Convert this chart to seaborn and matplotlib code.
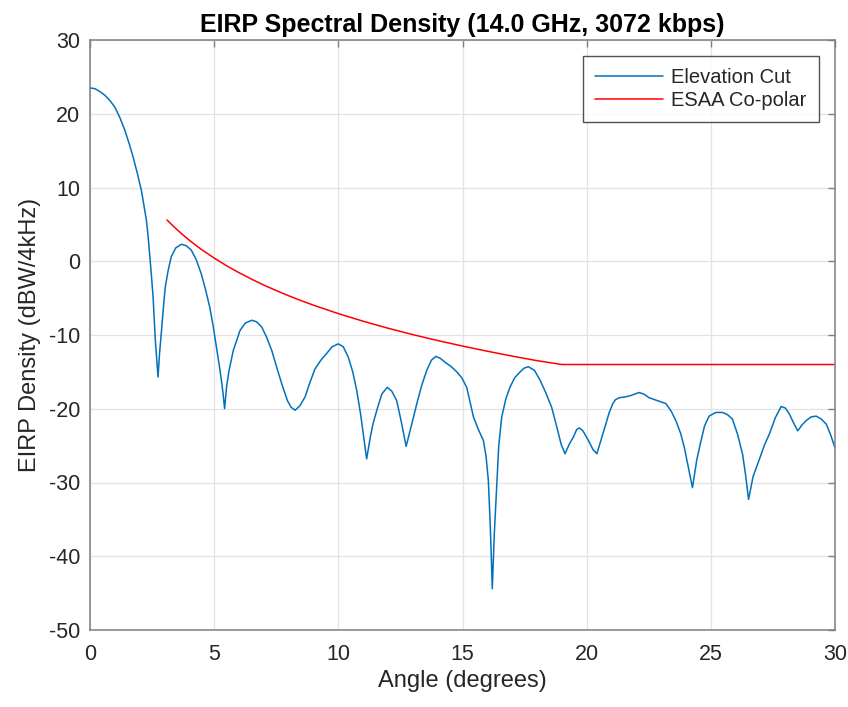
import matplotlib
matplotlib.use("Agg")
import matplotlib.pyplot as plt
import pandas as pd
import seaborn as sns

# Elevation cut (degrees, dBW/4kHz)
angle = [0.0, 0.2, 0.4, 0.6, 0.8, 1.0, 1.2, 1.4, 1.6, 1.73, 1.9, 2.07, 2.17,
         2.27, 2.34, 2.40, 2.47, 2.54, 2.63, 2.70, 2.74,
         2.80, 2.87, 2.95, 3.03, 3.15, 3.27, 3.45, 3.68, 3.88, 4.08, 4.28, 4.48,
         4.65, 4.82, 4.96, 5.09, 5.20, 5.29, 5.36, 5.42,
         5.50, 5.60, 5.77, 6.04, 6.25, 6.51, 6.70, 6.91, 7.10, 7.32, 7.52, 7.72,
         7.95, 8.10, 8.26, 8.45, 8.66, 8.86, 9.06, 9.30, 9.53, 9.75, 10.0, 10.20,
         10.40, 10.58, 10.74, 10.90, 11.03, 11.14, 11.28, 11.40, 11.55, 11.75,
         11.97, 12.15, 12.35, 12.55, 12.73, 12.85, 13.0, 13.16, 13.36, 13.56,
         13.75, 13.93, 14.12, 14.30, 14.55, 14.77, 14.97, 15.17, 15.30, 15.44,
         15.65, 15.84, 15.95, 16.04, 16.12, 16.20, 16.28, 16.38, 16.46, 16.58,
         16.75, 16.91, 17.10, 17.32, 17.48, 17.65, 17.90, 18.12, 18.35, 18.59,
         18.80, 18.97, 19.13, 19.30, 19.47, 19.60, 19.71, 19.85, 20.07, 20.25,
         20.41, 20.60, 20.77, 20.90, 21.04, 21.15, 21.31, 21.55, 21.78, 21.95,
         22.11, 22.30, 22.51, 22.85, 23.19, 23.40, 23.59, 23.78, 23.93, 24.10,
         24.26, 24.43, 24.60, 24.75, 24.93, 25.20, 25.47, 25.67, 25.87, 26.08,
         26.28, 26.40, 26.52, 26.70, 26.95, 27.15, 27.36, 27.60, 27.83, 28.00,
         28.16, 28.33, 28.50, 28.67, 28.84, 29.04, 29.24, 29.45, 29.65, 29.82,
         30.0]
eirp = [23.5, 23.4, 23.0, 22.5, 21.8, 20.9, 19.5, 17.8, 15.7, 14.2, 12.0, 9.6, 7.6,
        5.6, 3.4, 1.0, -1.8, -4.8, -10.7, -14.0, -15.7,
        -12.5, -9.8, -6.5, -3.5, -1.2, 0.6, 1.8, 2.3, 2.1, 1.5, 0.2, -1.7,
        -3.8, -6.2, -8.8, -11.6, -14.0, -16.1, -18.0, -20.0,
        -17.0, -14.8, -12.1, -9.4, -8.4, -8.0, -8.2, -8.9, -10.2, -12.1, -14.4, -16.6,
        -18.9, -19.8, -20.2, -19.6, -18.4, -16.4, -14.6, -13.4, -12.5, -11.6, -11.2, -11.6,
        -13.0, -15.0, -17.5, -20.8, -24.0, -26.8, -24.0, -22.0, -20.2, -18.0,
        -17.1, -17.6, -18.9, -22.0, -25.1, -23.5, -21.5, -19.3, -16.8, -14.8,
        -13.4, -12.9, -13.2, -13.7, -14.3, -15.0, -15.8, -17.1, -19.0, -21.1,
        -22.9, -24.3, -26.5, -29.7, -36.0, -44.4, -37.0, -30.2, -25.0, -21.1,
        -18.6, -17.1, -15.8, -15.0, -14.5, -14.3, -14.8, -16.1, -17.8, -19.8,
        -22.5, -24.8, -26.1, -24.8, -23.8, -22.8, -22.6, -23.0, -24.3, -25.5,
        -26.1, -24.0, -22.1, -20.6, -19.4, -18.8, -18.5, -18.4, -18.2, -18.0,
        -17.8, -18.0, -18.5, -18.9, -19.3, -20.3, -21.6, -23.3, -25.2, -28.0,
        -30.7, -27.0, -24.4, -22.3, -21.0, -20.5, -20.5, -20.8, -21.4, -23.5,
        -26.2, -29.0, -32.3, -29.2, -26.9, -25.0, -23.4, -21.2, -19.7, -19.9,
        -20.7, -21.9, -23.0, -22.2, -21.6, -21.1, -21.0, -21.4, -22.1, -23.5,
        -25.3]

# ESAA co-polar mask
mask_angle = [3.1, 3.3, 3.5, 3.75, 4.0, 4.25, 4.5, 5.0, 5.5, 6.0, 6.5, 7.0, 7.5,
              8.0, 8.5, 9.0, 10.0, 11.0, 12.0, 13.0, 14.0, 15.0, 16.0, 17.0,
              18.0, 19.0, 30.0]
mask_eirp = [5.6, 4.94, 4.3, 3.55, 2.85, 2.19, 1.57, 0.43, -0.61, -1.55, -2.42,
             -3.23, -3.98, -4.68, -5.34, -5.96, -7.1, -8.13, -9.08, -9.95,
             -10.75, -11.5, -12.2, -12.86, -13.48, -14.0, -14.0]

sns.set_theme(style="whitegrid")
plt.rcParams['font.family'] = ['Liberation Sans', 'DejaVu Sans']
plt.rcParams['axes.unicode_minus'] = False

fig = plt.figure(figsize=(8.48, 7.07), dpi=100)
ax = fig.add_axes([90 / 848, 1 - 630 / 707, 745 / 848, 590 / 707])

cut = pd.DataFrame({'Angle': angle, 'EIRP': eirp, 'series': 'Elevation Cut'})
esaa = pd.DataFrame({'Angle': mask_angle, 'EIRP': mask_eirp, 'series': 'ESAA Co-polar'})
df = pd.concat([cut, esaa], ignore_index=True)

sns.lineplot(data=df, x='Angle', y='EIRP', hue='series',
             palette=['#0072BD', '#FF0000'], sort=False, estimator=None,
             linewidth=1.1, ax=ax)

ax.set_xlim(0, 30)
ax.set_ylim(-50, 30)
ax.set_xticks(range(0, 31, 5))
ax.set_yticks(range(-50, 31, 10))
ax.grid(True, color='#e3e3e3', linewidth=0.9)
for s in ax.spines.values():
    s.set_color('#7f7f7f')
    s.set_linewidth(1.1)
ax.tick_params(axis='both', direction='in', length=5, width=1.0, color='#7f7f7f',
               labelsize=15.5, labelcolor='#262626', top=True, right=True)
ax.tick_params(axis='x', pad=10)
ax.tick_params(axis='y', pad=7)

ax.set_xlabel('Angle (degrees)', fontsize=17, color='#262626', labelpad=4)
ax.set_ylabel('EIRP Density (dBW/4kHz)', fontsize=17, color='#262626', labelpad=6)
ax.set_title('EIRP Spectral Density (14.0 GHz, 3072 kbps)', fontsize=18,
             fontweight='bold', color='#000000', pad=6)

leg = ax.legend(loc='upper right', fontsize=14.5, frameon=True, fancybox=False,
                handlelength=3.4, handletextpad=0.4, labelspacing=0.2,
                borderaxespad=0.8, borderpad=0.6)
leg.get_frame().set_edgecolor('#262626')
leg.get_frame().set_linewidth(1.0)
for line in leg.get_lines():
    line.set_linewidth(1.1)

fig.savefig('out.png', dpi=100)
